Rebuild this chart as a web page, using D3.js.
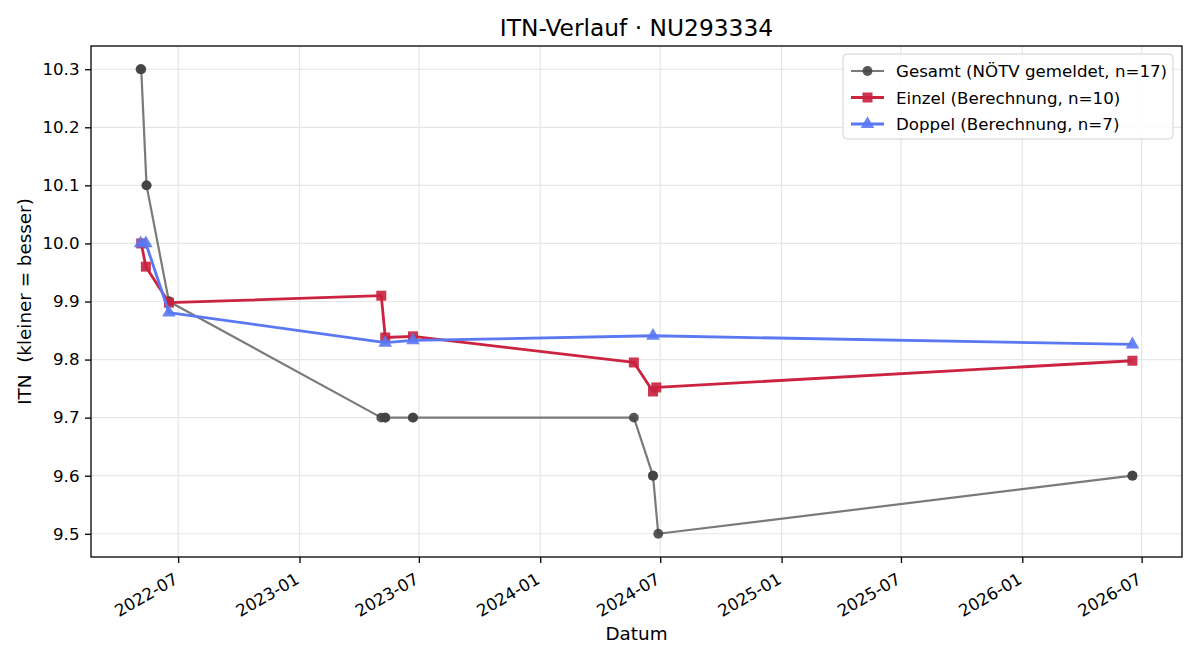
<!DOCTYPE html>
<html>
<head>
<meta charset="utf-8">
<script src="https://cdn.jsdelivr.net/npm/d3@7"></script>
<style>
  body { margin: 0; background: #fff; }
  svg text { font-family: "DejaVu Sans", sans-serif; }
</style>
</head>
<body>
<script>
// ITN history
var gesamtDates = ["2022-05-05", "2022-05-06", "2022-05-14", "2022-05-14", "2022-06-17", "2022-06-17",
                   "2023-05-05", "2023-05-11", "2023-05-11", "2023-06-22", "2023-06-22",
                   "2024-05-22", "2024-06-20", "2024-06-20", "2024-06-28", "2026-06-17", "2026-06-17"];
var gesamtValues = [10.3, 10.3, 10.1, 10.1, 9.9, 9.9, 9.7, 9.7, 9.7, 9.7, 9.7, 9.7, 9.6, 9.6, 9.5, 9.6, 9.6];

var einzelDates = ["2022-05-06", "2022-05-13", "2022-06-17", "2023-05-05", "2023-05-11",
                   "2023-06-22", "2024-05-22", "2024-06-20", "2024-06-25", "2026-06-17"];
var einzelValues = [10.0, 9.96, 9.898, 9.91, 9.838, 9.84, 9.795, 9.745, 9.752, 9.798];

var doppelDates = ["2022-05-05", "2022-05-13", "2022-06-17", "2023-05-11", "2023-06-22", "2024-06-20", "2026-06-17"];
var doppelValues = [10.0, 10.0, 9.881, 9.829, 9.833, 9.841, 9.826];

var yTicks = [9.5, 9.6, 9.7, 9.8, 9.9, 10.0, 10.1, 10.2, 10.3];

var parse = d3.timeParse("%Y-%m-%d");
function zip(dates, values) {
  return dates.map(function(d, i) { return {date: parse(d), value: values[i]}; });
}

var series = [
  {name: "Gesamt (NÖTV gemeldet, n=17)", data: zip(gesamtDates, gesamtValues),
   line: "#7a7a7a", fill: "#444", width: 2.2, symbol: d3.symbolCircle, size: 76},
  {name: "Einzel (Berechnung, n=10)", data: zip(einzelDates, einzelValues),
   line: "#cc2340", fill: "#c8203e", width: 2.8, symbol: d3.symbolSquare, size: 100},
  {name: "Doppel (Berechnung, n=7)", data: zip(doppelDates, doppelValues),
   line: "#5a78f2", fill: "#5a78f2", width: 2.8, symbol: d3.symbolTriangle, size: 80}
];

var margin = {top: 46, right: 18, bottom: 103, left: 91},
    W = 1200, H = 660,
    width = W - margin.left - margin.right,
    height = H - margin.top - margin.bottom;

var svg = d3.select("body").append("svg")
    .attr("width", W)
    .attr("height", H);

var allDates = series.flatMap(s => s.data.map(d => d.date));
var allVals = series.flatMap(s => s.data.map(d => d.value));

// matplotlib style 5% margins
var xExt = d3.extent(allDates), xPad = (xExt[1] - xExt[0]) * 0.05;
var yExt = d3.extent(allVals), yPad = (yExt[1] - yExt[0]) * 0.05;

var x = d3.scaleTime()
    .domain([new Date(+xExt[0] - xPad), new Date(+xExt[1] + xPad)])
    .range([margin.left, margin.left + width]);
var y = d3.scaleLinear()
    .domain([yExt[0] - yPad, yExt[1] + yPad])
    .range([margin.top + height, margin.top]);

var xTicks = x.ticks(d3.timeMonth.every(6));

// grid
svg.append("g").selectAll("line").data(xTicks).enter().append("line")
    .attr("x1", d => x(d)).attr("x2", d => x(d))
    .attr("y1", margin.top).attr("y2", margin.top + height)
    .attr("stroke", "#e6e6e6").attr("stroke-width", 1.2);
svg.append("g").selectAll("line").data(yTicks).enter().append("line")
    .attr("x1", margin.left).attr("x2", margin.left + width)
    .attr("y1", d => y(d)).attr("y2", d => y(d))
    .attr("stroke", "#e6e6e6").attr("stroke-width", 1.2);

// axes
var gx = svg.append("g")
    .attr("transform", `translate(0,${margin.top + height})`)
    .call(d3.axisBottom(x).tickValues(xTicks).tickFormat(d3.timeFormat("%Y-%m")).tickSize(6).tickSizeOuter(0))
    .attr("font-family", "DejaVu Sans");
gx.select(".domain").remove();
gx.selectAll("line").attr("stroke", "#000").attr("stroke-width", 1.3);
gx.selectAll("text")
    .attr("font-size", "16.67px").attr("fill", "#000")
    .attr("text-anchor", "end")
    .attr("x", null).attr("dy", null)
    .attr("y", null)
    .attr("transform", "translate(0.5,25.5) rotate(-30)");

var gy = svg.append("g")
    .attr("transform", `translate(${margin.left},0)`)
    .call(d3.axisLeft(y).tickValues(yTicks).tickFormat(d3.format(".1f")).tickSize(6).tickSizeOuter(0))
    .attr("font-family", "DejaVu Sans");
gy.select(".domain").remove();
gy.selectAll("line").attr("stroke", "#000").attr("stroke-width", 1.3);
gy.selectAll("text").attr("font-size", "16.67px").attr("fill", "#000").attr("x", -11.5);

// frame
svg.append("rect")
    .attr("x", margin.left).attr("y", margin.top)
    .attr("width", width).attr("height", height)
    .attr("fill", "none").attr("stroke", "#000").attr("stroke-width", 1.3);

// lines + markers
var line = d3.line().x(d => x(d.date)).y(d => y(d.value));

series.forEach(function(s) {
  var g = svg.append("g");
  g.append("path").datum(s.data)
      .attr("d", line)
      .attr("fill", "none")
      .attr("stroke", s.line)
      .attr("stroke-width", s.width)
      .attr("stroke-linejoin", "round");
  g.selectAll("path.m").data(s.data).enter().append("path")
      .attr("class", "m")
      .attr("d", d3.symbol().type(s.symbol).size(s.size))
      .attr("transform", d => `translate(${x(d.date)},${y(d.value)})`)
      .attr("fill", s.fill)
      .attr("fill-opacity", 0.9);
});

// titles
svg.append("text")
    .attr("x", margin.left + width / 2).attr("y", 35.7)
    .attr("text-anchor", "middle").attr("font-size", "23.33px")
    .text("ITN-Verlauf · NU293334");
svg.append("text")
    .attr("x", margin.left + width / 2).attr("y", 640)
    .attr("text-anchor", "middle").attr("font-size", "18.33px")
    .text("Datum");
svg.append("text")
    .attr("transform", `translate(31,${margin.top + height / 2}) rotate(-90)`)
    .attr("text-anchor", "middle").attr("font-size", "18.33px")
    .style("white-space", "pre")
    .text("ITN  (kleiner = besser)");

// legend
var lg = svg.append("g").attr("transform", "translate(843,54)");
lg.append("rect")
    .attr("width", 330).attr("height", 85).attr("rx", 4)
    .attr("fill", "#fff").attr("fill-opacity", 0.85)
    .attr("stroke", "#d0d0d0");
series.forEach(function(s, i) {
  var row = lg.append("g").attr("transform", `translate(0,${17 + i * 26.5})`);
  row.append("line").attr("x1", 8).attr("x2", 41)
      .attr("stroke", s.line).attr("stroke-width", s.width);
  row.append("path")
      .attr("d", d3.symbol().type(s.symbol).size(s.size))
      .attr("transform", "translate(24.5,0)")
      .attr("fill", s.fill).attr("fill-opacity", 0.9);
  row.append("text").attr("x", 53).attr("y", 6)
      .attr("font-size", "16.67px").text(s.name);
});
</script>
</body>
</html>
